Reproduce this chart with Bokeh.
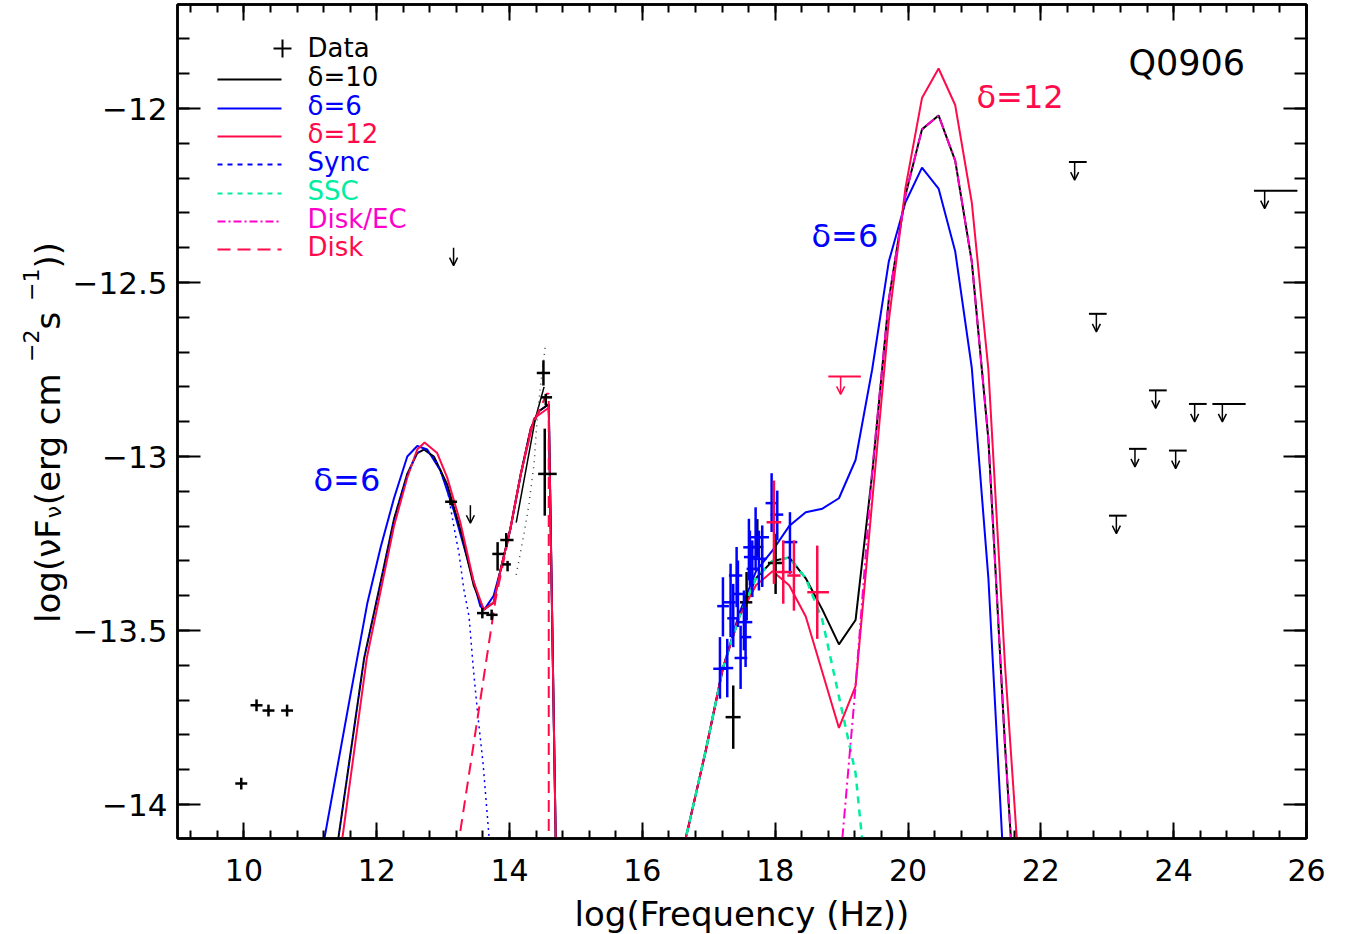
import numpy as np
from bokeh.plotting import figure
from bokeh.layouts import row
from bokeh.models import (Range1d, SingleIntervalTicker, LinearAxis, Label, Arrow, OpenHead,
                          ColumnDataSource, CustomJSTickFormatter)
from bokeh.core.properties import value
from bokeh.embed import file_html
from bokeh.resources import INLINE

# ---------------- model curves (log nu, log nuFnu) ----------------
d10_x = [11.20, 11.42, 11.81, 12.06, 12.26, 12.46, 12.61, 12.71, 12.86, 13.06, 13.26, 13.46, 13.61, 13.76,
         13.86, 14.01, 14.17, 14.32, 14.44, 14.59, 14.72, 16.21, 16.46, 16.71, 16.96, 17.21, 17.46, 17.71,
         17.96, 18.21, 18.46, 18.71, 18.96, 19.21, 19.46, 19.71, 19.96, 20.21, 20.46, 20.71, 20.96, 21.21,
         21.46, 21.71]
d10_y = [-14.39, -14.10, -13.58, -13.36, -13.18, -13.05, -12.99, -12.98, -13.00, -13.08, -13.21, -13.37, -13.44,
         -13.42, -13.33, -13.21, -13.05, -12.92, -12.87, -12.85, -14.40, -14.45, -14.25, -14.05, -13.84, -13.61,
         -13.46, -13.35, -13.30, -13.29, -13.35, -13.44, -13.54, -13.47, -13.05, -12.55, -12.25, -12.06, -12.02,
         -12.15, -12.44, -12.95, -13.83, -14.58]

d6_x = [10.95, 11.21, 11.59, 11.86, 12.06, 12.26, 12.46, 12.61, 12.76, 12.96, 13.16, 13.36, 13.56, 13.62, 13.76,
        13.86, 14.01, 14.17, 14.32, 14.44, 14.59, 14.72, 16.21, 16.46, 16.71, 16.96, 17.21, 17.46, 17.71, 17.96,
        18.21, 18.46, 18.71, 18.96, 19.21, 19.46, 19.71, 19.96, 20.21, 20.46, 20.71, 20.96, 21.21, 21.46]
d6_y = [-14.38, -14.10, -13.70, -13.42, -13.26, -13.12, -13.00, -12.97, -12.98, -13.04, -13.155, -13.29, -13.43,
        -13.44, -13.40, -13.33, -13.21, -13.05, -12.92, -12.87, -12.85, -14.40, -14.45, -14.25, -14.05, -13.84,
        -13.61, -13.45, -13.33, -13.27, -13.20, -13.16, -13.15, -13.12, -13.01, -12.75, -12.44, -12.27, -12.17,
        -12.23, -12.41, -12.745, -13.35, -14.25]

d12_x = [11.25, 11.48, 11.85, 12.06, 12.26, 12.46, 12.61, 12.72, 12.91, 13.06, 13.26, 13.46, 13.61, 13.76, 13.86,
         14.01, 14.17, 14.37, 14.59, 14.72, 16.21, 16.46, 16.71, 16.96, 17.21, 17.46, 17.71, 17.96, 18.21, 18.46,
         18.71, 18.96, 19.21, 19.46, 19.71, 19.96, 20.21, 20.46, 20.71, 20.96, 21.21, 21.46, 21.71]
d12_y = [-14.40, -14.10, -13.58, -13.385, -13.20, -13.06, -12.98, -12.96, -12.99, -13.06, -13.19, -13.36, -13.44,
         -13.42, -13.33, -13.21, -13.05, -12.89, -12.86, -14.40, -14.45, -14.25, -14.05, -13.84, -13.61, -13.46,
         -13.37, -13.33, -13.37, -13.46, -13.62, -13.78, -13.66, -13.13, -12.61, -12.23, -11.97, -11.885, -11.99,
         -12.27, -12.75, -13.60, -14.30]

sync_x = [11.20, 11.42, 11.81, 12.06, 12.26, 12.46, 12.61, 12.71, 12.86, 13.06, 13.16, 13.24, 13.31, 13.39,
          13.45, 13.52, 13.60, 13.69, 13.75]
sync_y = [-14.39, -14.10, -13.58, -13.36, -13.18, -13.05, -12.99, -12.98, -13.00, -13.09, -13.20, -13.28, -13.38,
          -13.46, -13.60, -13.74, -13.88, -14.09, -14.25]

ssc_x = [16.21, 16.46, 16.71, 16.96, 17.21, 17.46, 17.71, 17.96, 18.21, 18.46, 18.71, 18.96, 19.21, 19.46]
ssc_y = [-14.45, -14.25, -14.05, -13.84, -13.61, -13.46, -13.35, -13.30, -13.29, -13.35, -13.47, -13.69, -13.91,
         -14.39]

ec_x = [18.71, 18.96, 19.21, 19.46, 19.71, 19.96, 20.21, 20.46, 20.71, 20.96, 21.21, 21.46, 21.71]
ec_y = [-14.90, -14.21, -13.66, -13.04, -12.55, -12.25, -12.06, -12.02, -12.15, -12.44, -12.95, -13.83, -14.58]

disk_x = [13.00, 13.24, 13.48, 13.79, 14.01, 14.17, 14.32, 14.44, 14.56, 14.59, 14.59]
disk_y = [-14.40, -14.10, -13.80, -13.41, -13.21, -13.05, -12.92, -12.87, -12.82, -12.82, -14.40]

dot_x = [14.10, 14.22, 14.29, 14.37, 14.42, 14.47, 14.54]
dot_y = [-13.34, -13.22, -13.14, -13.02, -12.88, -12.79, -12.68]

thin_x = [14.10, 14.39, 14.52]
thin_y = [-13.19, -12.89, -12.80]

# ---------------- data points ----------------
bk_x = [9.96, 10.19, 10.37, 10.65, 13.11, 13.59, 13.73, 13.82, 13.95, 13.97, 14.51, 14.545, 14.53,
        17.368, 17.569, 17.73, 18.006]
bk_y = [-13.94, -13.715, -13.73, -13.73, -13.13, -13.45, -13.455, -13.28, -13.24, -13.31, -12.76, -12.83, -13.05,
        -13.749, -13.419, -13.26, -13.306]
bk_xlo = [9.87, 10.10, 10.28, 10.56, 13.03, 13.51, 13.65, 13.74, 13.86, 13.89, 14.41, 14.47, 14.43,
          17.253, 17.469, 17.64, 17.89]
bk_xhi = [10.05, 10.28, 10.46, 10.74, 13.21, 13.69, 13.82, 13.92, 14.06, 14.02, 14.61, 14.64, 14.71,
          17.479, 17.655, 17.82, 18.11]
bk_ylo = [-13.957, -13.732, -13.747, -13.747, -13.14, -13.465, -13.47, -13.328, -13.26, -13.33, -12.796, -12.853,
          -13.17, -13.840, -13.471, -13.29, -13.395]
bk_yhi = [-13.923, -13.698, -13.713, -13.713, -13.12, -13.435, -13.44, -13.246, -13.22, -13.30, -12.724, -12.82,
          -12.92, -13.658, -13.332, -13.18, -13.222]

bl_x = [17.168, 17.278, 17.213, 17.328, 17.368, 17.419, 17.439, 17.479, 17.529, 17.554, 17.604, 17.619, 17.655,
        17.705, 17.755, 17.805, 17.946, 18.031, 18.222]
bl_y = [-13.610, -13.608, -13.430, -13.419, -13.465, -13.342, -13.395, -13.579, -13.476, -13.519, -13.261, -13.289,
        -13.323, -13.232, -13.294, -13.232, -13.134, -13.167, -13.246]
bl_xlo = [17.067, 17.178, 17.127, 17.228, 17.278, 17.303, 17.353, 17.388, 17.439, 17.469, 17.519, 17.529, 17.569,
          17.620, 17.670, 17.705, 17.855, 17.931, 18.131]
bl_xhi = [17.278, 17.368, 17.303, 17.404, 17.454, 17.504, 17.539, 17.579, 17.655, 17.640, 17.705, 17.730, 17.755,
          17.805, 17.870, 17.906, 18.031, 18.121, 18.332]
bl_ylo = [-13.696, -13.692, -13.517, -13.519, -13.548, -13.433, -13.490, -13.668, -13.557, -13.605, -13.356, -13.371,
          -13.404, -13.328, -13.385, -13.375, -13.217, -13.241, -13.337]
bl_yhi = [-13.519, -13.524, -13.347, -13.308, -13.366, -13.260, -13.299, -13.486, -13.385, -13.433, -13.179, -13.213,
          -13.241, -13.146, -13.213, -13.198, -13.048, -13.098, -13.160]

rd_x = [17.981, 18.121, 18.282, 18.633]
rd_y = [-13.189, -13.332, -13.342, -13.390]
rd_xlo = [17.870, 18.006, 18.182, 18.483]
rd_xhi = [18.091, 18.257, 18.382, 18.809]
rd_ylo = [-13.366, -13.423, -13.443, -13.524]
rd_yhi = [-13.069, -13.241, -13.241, -13.256]

# upper limits (gamma-ray, black, with bars)
ul_x = [22.509, 25.370, 22.836, 23.729, 24.316, 24.733, 23.417, 24.030, 23.137]
ul_y = [-12.154, -12.236, -12.590, -12.810, -12.849, -12.849, -12.978, -12.983, -13.170]
ul_xlo = [22.423, 25.209, 22.724, 23.628, 24.230, 24.583, 23.327, 23.929, 23.026]
ul_xhi = [22.690, 25.863, 22.991, 23.895, 24.497, 25.084, 23.593, 24.196, 23.292]
# upper limits without bars (IR, black)
ul2_x = [13.157, 13.41]
ul2_y = [-12.40, -13.14]
# red upper limit
rul_x = [18.985]
rul_y = [-12.770]
rul_xlo = [18.80]
rul_xhi = [19.29]

# ---------------- styling / geometry ----------------
FONT = "DejaVu Sans"
BLACK = "#000000"
BLUE = "#0000ff"
RED = "#ff0a4a"
GREEN = "#00eea0"
MAGENTA = "#ff00cc"

LABEL_W = 69                     # width of the strip holding the y title
FRAME_W, FRAME_H = 1129, 834
X0, X1 = 9.0, 26.0
PXU = 348.0                      # pixels per y unit
LEFT, TOP = 177, 4               # frame position on page
Y1 = -12.0 + (108 - TOP) / PXU
Y0 = Y1 - FRAME_H / PXU


def px2x(px):
    return X0 + (px - LEFT) * (X1 - X0) / FRAME_W


def py2y(py):
    return Y1 - (py - TOP) / PXU


p = figure(frame_width=FRAME_W, frame_height=FRAME_H,
           x_range=Range1d(X0, X1), y_range=Range1d(Y0, Y1),
           output_backend="svg", toolbar_location=None,
           min_border_left=LEFT - LABEL_W, min_border_right=35, min_border_top=TOP, min_border_bottom=90,
           x_axis_location=None, y_axis_location=None)
p.xgrid.visible = False
p.ygrid.visible = False
p.outline_line_color = BLACK
p.outline_line_width = 2.5
p.background_fill_color = "white"
p.border_fill_color = "white"


def style_axis(ax, tick_in, minor_in):
    ax.major_tick_in = tick_in
    ax.major_tick_out = 0
    ax.minor_tick_in = minor_in
    ax.minor_tick_out = 0
    ax.axis_line_width = 2.5
    ax.axis_line_color = BLACK
    ax.major_tick_line_width = 2
    ax.minor_tick_line_width = 2
    ax.major_tick_line_color = BLACK
    ax.minor_tick_line_color = BLACK
    ax.major_label_text_font = FONT
    ax.major_label_text_color = BLACK


xb = LinearAxis(ticker=SingleIntervalTicker(interval=2, num_minor_ticks=5))
style_axis(xb, 16, 8)
xb.major_label_text_font_size = "30px"
xb.major_label_standoff = 20
xb.axis_label = "log(Frequency (Hz))"
xb.axis_label_text_font = FONT
xb.axis_label_text_font_size = "34px"
xb.axis_label_text_font_style = "normal"
xb.axis_label_text_color = BLACK
xb.axis_label_standoff = 10
p.add_layout(xb, "below")

xt = LinearAxis(ticker=SingleIntervalTicker(interval=2, num_minor_ticks=5))
style_axis(xt, 16, 8)
xt.major_label_text_font_size = "0px"
xt.major_label_standoff = 0
xt.formatter = CustomJSTickFormatter(code="return '';")
p.add_layout(xt, "above")

yfmt = CustomJSTickFormatter(code="""
const v = Number(Math.abs(tick).toFixed(2));
return (tick < 0 ? '\u2212' : '') + v.toString();
""")
yl = LinearAxis(ticker=SingleIntervalTicker(interval=0.5, num_minor_ticks=5), formatter=yfmt)
style_axis(yl, 23, 12)
yl.major_label_text_font_size = "31px"
yl.major_label_standoff = 10
p.add_layout(yl, "left")

yr = LinearAxis(ticker=SingleIntervalTicker(interval=0.5, num_minor_ticks=5))
style_axis(yr, 23, 12)
yr.major_label_text_font_size = "0px"
yr.major_label_standoff = 0
yr.formatter = CustomJSTickFormatter(code="return '';")
p.add_layout(yr, "right")

# ---------------- curves ----------------
p.line(d6_x, d6_y, line_color=BLUE, line_width=2)
p.line(d10_x, d10_y, line_color=BLACK, line_width=2)
p.line(d12_x, d12_y, line_color=RED, line_width=2)
p.line(thin_x, thin_y, line_color=BLACK, line_width=1.5)
p.line(dot_x, dot_y, line_color="#444444", line_width=1.5, line_dash="1 5")
p.line(sync_x, sync_y, line_color=BLUE, line_width=1.5, line_dash="2 4")
p.line(ssc_x, ssc_y, line_color=GREEN, line_width=2.5, line_dash="7 6")
p.line(ec_x, ec_y, line_color=MAGENTA, line_width=2, line_dash="10 4 2 4")
p.line(disk_x, disk_y, line_color=RED, line_width=2, line_dash="12 7")

# ---------------- data crosses ----------------
for xs, ys, xlo, xhi, ylo, yhi, col in [
    (bk_x, bk_y, bk_xlo, bk_xhi, bk_ylo, bk_yhi, BLACK),
    (bl_x, bl_y, bl_xlo, bl_xhi, bl_ylo, bl_yhi, BLUE),
    (rd_x, rd_y, rd_xlo, rd_xhi, rd_ylo, rd_yhi, RED),
]:
    p.segment(x0=xs, y0=ylo, x1=xs, y1=yhi, line_color=col, line_width=2.5)
    p.segment(x0=xlo, y0=ys, x1=xhi, y1=ys, line_color=col, line_width=2.5)

# ---------------- upper limits ----------------
ARROW_LEN = 18.0 / PXU
p.segment(x0=ul_xlo, y0=ul_y, x1=ul_xhi, y1=ul_y, line_color=BLACK, line_width=2)
p.segment(x0=rul_xlo, y0=rul_y, x1=rul_xhi, y1=rul_y, line_color=RED, line_width=2)

for xs, ys, col in [(ul_x, ul_y, BLACK), (ul2_x, ul2_y, BLACK), (rul_x, rul_y, RED)]:
    src = ColumnDataSource(dict(x=xs, y0=ys, y1=[v - ARROW_LEN for v in ys]))
    p.add_layout(Arrow(end=OpenHead(size=8, line_width=1.5, line_color=col),
                       x_start="x", y_start="y0", x_end="x", y_end="y1", source=src,
                       line_color=col, line_width=1.5))

# ---------------- labels in plot (py = vertical centre of the text) ----------------
def add_text(px, py, txt, col, size, align="left"):
    p.add_layout(Label(x=px2x(px), y=py2y(py), text=txt, text_color=col, text_font=FONT,
                       text_font_size=size, text_align=align, text_baseline="middle"))


add_text(1128, 62, "Q0906", BLACK, "35px")
add_text(976, 96, "δ=12", RED, "32px")
add_text(811, 235, "δ=6", BLUE, "32px")
add_text(313, 479, "δ=6", BLUE, "32px")

# ---------------- legend ----------------
leg_rows = [
    ("δ=10", BLACK, None, 2, 79),
    ("δ=6", BLUE, None, 2, 108),
    ("δ=12", RED, None, 2, 136),
    ("Sync", BLUE, "5 5", 2, 164),
    ("SSC", GREEN, "5 5", 2, 193),
    ("Disk/EC", MAGENTA, "8 3 2 3", 2, 221),
    ("Disk", RED, "13 7", 2, 249),
]
p.scatter([px2x(282)], [py2y(48)], marker="cross", size=18, line_color=BLACK, line_width=2)
add_text(307, 47, "Data", BLACK, "26px")
for txt, col, dash, lw, ly in leg_rows:
    kw = dict(line_color=col, line_width=lw)
    if dash:
        kw["line_dash"] = dash
    p.line([px2x(217), px2x(281)], [py2y(ly), py2y(ly)], **kw)
    add_text(307, ly - 3, txt, col, "26px")

# ---------------- y axis title: separate strip, coordinates = page pixels ----------------
FIG_H = 934
lab = figure(frame_width=LABEL_W, frame_height=FIG_H, x_range=Range1d(0, LABEL_W), y_range=Range1d(FIG_H, 0),
             output_backend="svg", toolbar_location=None, min_border=0,
             x_axis_location=None, y_axis_location=None)
lab.xgrid.visible = False
lab.ygrid.visible = False
lab.outline_line_color = None
lab.background_fill_color = "white"
lab.border_fill_color = "white"

MAIN, SMALL = 34, 22
W = {"l": .278, "o": .612, "g": .635, "(": .390, "ν": .592, "F": .575, " ": .318, "e": .615, "r": .411,
     "c": .550, "m": .974, "s": .521, ")": .390, "−": .838, "1": .636, "2": .636}


def twidth(t, fs):
    return sum(W.get(ch, .6) for ch in t) * fs


pieces = [("log(νF", MAIN, 47), ("ν", SMALL, 53), (" (erg cm", MAIN, 47), ("−2", SMALL, 30),
          (" s", MAIN, 47), ("−1", SMALL, 30), ("))", MAIN, 47)]
total = sum(twidth(t, fs) for t, fs, _ in pieces)
ystart = 428 + total / 2
for t, fs, bx in pieces:
    lab.text(x=[bx], y=[ystart], text=[t], angle=np.pi / 2, text_font=value(FONT),
             text_font_size=f"{fs}px", text_color=BLACK, text_align="left", text_baseline="alphabetic")
    ystart -= twidth(t, fs)

layout = row(lab, p)
open("out.html", "w").write(file_html(layout, INLINE))
